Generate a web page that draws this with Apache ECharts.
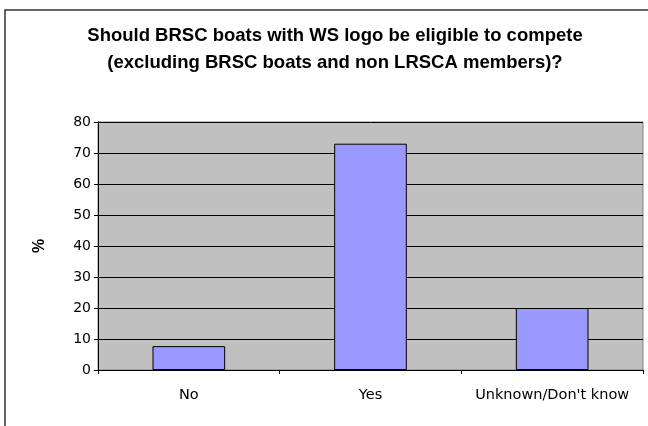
<!DOCTYPE html>
<html>
<head>
<meta charset="utf-8">
<style>html,body{margin:0;padding:0;background:#fff}#c{width:648px;height:426px}</style>
<script src="https://cdn.jsdelivr.net/npm/echarts@6/dist/echarts.min.js"></script>
</head>
<body>
<div id="c"></div>
<script>
var categories = ["No", "Yes", "Unknown/Don't know"];
var values = [7.7, 73, 20];
var yTicks = [0, 10, 20, 30, 40, 50, 60, 70, 80];
var titleLines = ["Should BRSC boats with WS logo be eligible to compete", "(excluding BRSC boats and non LRSCA members)?"];

var chart = echarts.init(document.getElementById('c'));
chart.setOption({
  animation: false,
  title: {
    text: titleLines.join('\n'),
    left: 330, top: 17, textAlign: 'center',
    textStyle: {fontFamily: 'Liberation Sans', fontWeight: 'bold', fontSize: 18.5, color: '#000', lineHeight: 27}
  },
  graphic: [{
    type: 'rect', shape: {x: 5, y: 10, width: 660, height: 440},
    style: {fill: 'none', stroke: '#333', lineWidth: 1.5}, z: 100
  }],
  grid: {left: 98, top: 122, right: 5, bottom: 56, show: true, backgroundColor: '#c0c0c0', borderColor: '#808080', borderWidth: 1},
  xAxis: {
    type: 'category', data: categories,
    axisLine: {lineStyle: {color: '#000', width: 1}},
    axisTick: {show: true, interval: 0, length: 4, lineStyle: {color: '#000'}},
    axisLabel: {interval: 0, color: '#000', fontFamily: 'DejaVu Sans', fontSize: 14.5, margin: 18}
  },
  yAxis: {
    type: 'value', min: yTicks[0], max: yTicks[yTicks.length - 1], interval: 10,
    name: '%', nameLocation: 'middle', nameGap: 50, nameRotate: 90,
    nameTextStyle: {fontFamily: 'Liberation Sans', fontWeight: 'bold', fontSize: 16, color: '#000'},
    axisLine: {show: true, lineStyle: {color: '#000', width: 1}},
    axisTick: {show: true, length: 4, lineStyle: {color: '#000'}},
    axisLabel: {color: '#000', fontFamily: 'DejaVu Sans', fontSize: 14, margin: 7},
    splitLine: {show: true, lineStyle: {color: '#000', width: 1}}
  },
  series: [{
    type: 'bar', data: values, barWidth: '40%',
    itemStyle: {color: '#9999ff', borderColor: '#000', borderWidth: 1}
  }]
});
</script>
</body>
</html>
